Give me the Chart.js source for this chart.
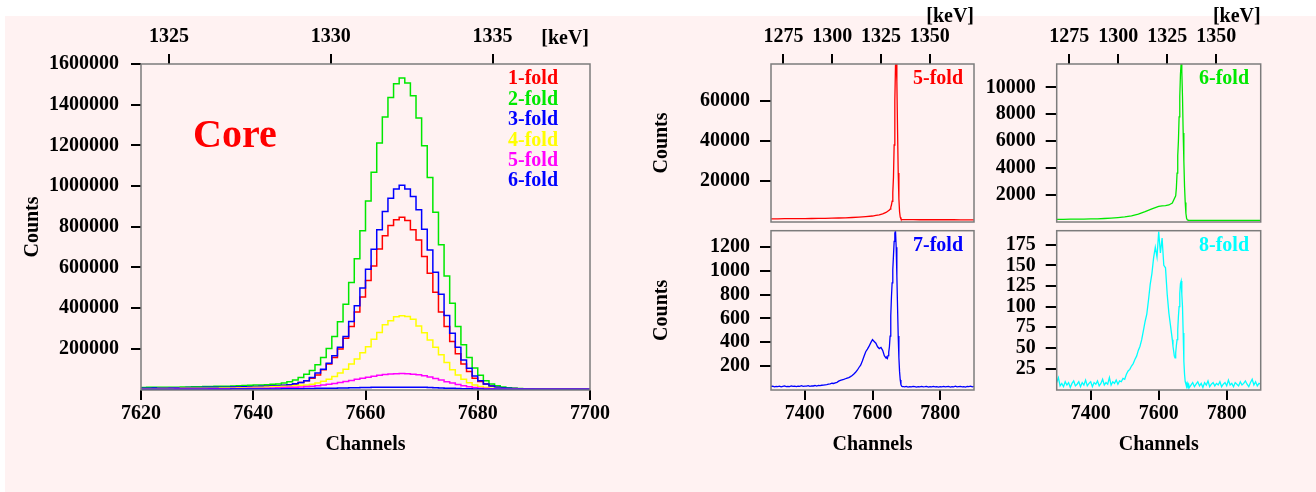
<!DOCTYPE html>
<html>
<head>
<meta charset="utf-8">
<script src="https://cdn.jsdelivr.net/npm/chart.js@4.4.1/dist/chart.umd.min.js"></script>
<style>
  body { margin: 0; width: 1316px; height: 492px; background: #fff; position: relative; overflow: hidden;
         font-family: "Liberation Serif", "Times New Roman", serif; font-weight: bold; }
  #panel { position: absolute; left: 5px; top: 16px; right: 0; bottom: 0; background: #fff2f2; }
  canvas { position: absolute; top: 0; }
  .note { position: absolute; font-size: 20px; line-height: 20px; white-space: nowrap; text-align: right; }
</style>
</head>
<body>
<div id="panel"></div>
<canvas id="core-chart" width="660" height="492" style="left:0"></canvas>
<canvas id="fold5-chart" width="340" height="492" style="left:640px"></canvas>
<canvas id="fold7-chart" width="340" height="492" style="left:640px"></canvas>
<canvas id="fold6-chart" width="356" height="492" style="left:960px"></canvas>
<canvas id="fold8-chart" width="356" height="492" style="left:960px"></canvas>

<div class="note" style="left:193px;top:114px;font-size:40px;line-height:40px;color:#f00">Core</div>
<div class="note" style="right:727px;top:27px;color:#000">[keV]</div>
<div class="note" style="right:758px;top:67px;color:#f00">1-fold</div>
<div class="note" style="right:758px;top:88px;color:#00e800">2-fold</div>
<div class="note" style="right:758px;top:108px;color:#00f">3-fold</div>
<div class="note" style="right:758px;top:129px;color:#ff0">4-fold</div>
<div class="note" style="right:758px;top:149px;color:#f0f">5-fold</div>
<div class="note" style="right:758px;top:169px;color:#00f">6-fold</div>
<div class="note" style="right:353px;top:67px;color:#f00">5-fold</div>
<div class="note" style="right:67px;top:67px;color:#00e800">6-fold</div>
<div class="note" style="right:353px;top:234px;color:#00f">7-fold</div>
<div class="note" style="right:67px;top:234px;color:#0ff">8-fold</div>

<script>
const SERIF = '"Liberation Serif", "Times New Roman", serif';
const tickFont = { family: SERIF, size: 20, weight: "bold" };

// energy calibration shown on the top axes
const CHANNEL_AT_REF = 7625;
const KEV_AT_REF = 1325;
const KEV_PER_CHANNEL = 0.1735;

// core spectrum: one bin per channel, 7620..7699, counts in thousands
const coreXTicks = [7620, 7640, 7660, 7680, 7700];
const coreYTicks = [200000, 400000, 600000, 800000, 1000000, 1200000, 1400000, 1600000];
const coreKeVTicks = [1325, 1330, 1335];

const fold1Core = [
  6, 6, 6, 7, 7, 7, 7, 8, 8, 8, 8, 9, 9, 9, 10, 10, 11, 11, 12, 12, 13, 13, 14, 15, 15,
  16, 19, 22, 27, 34, 43, 55, 71, 96, 125,
  157, 198, 252, 309, 380, 454, 535, 607, 690, 755,
  806, 834, 847, 830, 785, 735, 653, 571, 478, 380,
  309, 235, 175, 125, 88, 55, 39, 27, 17, 11,
  7, 5, 4, 3, 2,
  2, 1, 1, 1, 1, 1, 1, 1, 1, 1,
];
const fold2Core = [
  9, 9, 10, 10, 10, 11, 11, 11, 12, 12, 13, 13, 14, 14, 15, 16, 16, 17, 18, 19, 20, 21, 22, 23, 25,
  27, 31, 37, 46, 58, 74, 93, 121, 157, 201,
  260, 332, 419, 526, 642, 780, 926, 1068, 1211, 1339,
  1435, 1503, 1531, 1506, 1444, 1334, 1198, 1042, 871, 711,
  558, 424, 309, 219, 157, 105, 70, 43, 27, 18,
  12, 8, 6, 4, 3,
  2, 2, 2, 1, 1, 1, 1, 1, 1, 1,
];
const fold3Core = [
  6, 6, 6, 7, 7, 7, 8, 8, 8, 9, 9, 9, 10, 10, 10, 11, 11, 12, 12, 13, 13, 14, 15, 16, 17,
  18, 20, 23, 28, 34, 43, 58, 80, 99, 129,
  166, 207, 260, 334, 411, 498, 591, 689, 785, 875,
  940, 985, 1004, 985, 948, 883, 788, 686, 576, 468,
  363, 276, 207, 145, 104, 66, 43, 27, 17, 11,
  7, 5, 4, 3, 2,
  2, 1, 1, 1, 1, 1, 1, 1, 1, 1,
];
const fold4Core = [
  3, 3, 3, 3, 4, 4, 4, 4, 5, 5, 5, 5, 6, 6, 6, 7, 7, 7, 8, 8, 9, 10, 11, 12, 13,
  14, 15, 16, 18, 20, 22, 25, 32, 40, 50,
  63, 80, 99, 125, 150, 180, 210, 247, 280, 318,
  337, 357, 362, 358, 345, 312, 279, 243, 207, 170,
  132, 96, 71, 50, 33, 22, 14, 9, 6, 4,
  3, 2, 2, 1, 1,
  1, 1, 1, 1, 1, 1, 1, 1, 1, 1,
];
const fold5Core = [
  1, 1, 1, 1, 1, 1, 1, 2, 2, 2, 2, 2, 2, 3, 3, 3, 3, 4, 4, 4, 5, 5, 6, 6, 7,
  8, 9, 10, 11, 12, 14, 16, 18, 21, 25,
  29, 34, 39, 44, 50, 55, 60, 65, 69, 73,
  76, 77, 78, 77, 75, 72, 67, 61, 54, 46,
  38, 31, 24, 18, 13, 9, 6, 4, 3, 2,
  2, 1, 1, 1, 1,
  1, 1, 1, 1, 1, 1, 1, 1, 1, 1,
];
const fold6Core = [
  1, 1, 1, 1, 1, 1, 1, 1, 1, 1, 1, 1, 1, 1, 1, 1, 1, 2, 2, 2, 2, 2, 2, 2, 2,
  2, 3, 3, 3, 3, 4, 4, 5, 5, 6,
  6, 7, 7, 8, 8, 9, 9, 10, 10, 11,
  11, 11, 11, 11, 11, 10, 10, 9, 8, 7,
  6, 5, 4, 3, 3, 2, 2, 1, 1, 1,
  1, 1, 1, 1, 1,
  1, 1, 1, 1, 1, 1, 1, 1, 1, 1,
];

// fold panels on the right
const sideXTicks = [7400, 7600, 7800];
const sideKeVTicks = [1275, 1300, 1325, 1350];
const fold5YTicks = [20000, 40000, 60000];
const fold6YTicks = [2000, 4000, 6000, 8000, 10000];
const fold7YTicks = [200, 400, 600, 800, 1000, 1200];
const fold8YTicks = [25, 50, 75, 100, 125, 150, 175];

const smoothChannels = [
  7300, 7320, 7340, 7360, 7380, 7400, 7420, 7440, 7460, 7480, 7500, 7520, 7540, 7560, 7580, 7600,
  7610, 7620, 7630, 7640,
  7650, 7652, 7654, 7656, 7658, 7660, 7662, 7664, 7666, 7668, 7670, 7672, 7674, 7676, 7678, 7680,
  7682, 7684, 7686, 7688, 7690,
  7700, 7720, 7740, 7760, 7780, 7800, 7820, 7840, 7860, 7880, 7900,
];
const fold5Counts = [
  1000, 1000, 1050, 1050, 1100, 1100, 1150, 1200, 1250, 1300, 1400, 1500, 1650, 1850, 2100, 2400,
  2700, 3000, 3500, 4200,
  5400, 5900, 6700, 7900, 9800, 14000, 22000, 38000, 60000, 78000, 79000, 70000, 46000, 24000, 11000, 4500,
  1800, 900, 650, 600, 580,
  560, 550, 540, 540, 530, 530, 520, 520, 510, 510, 500,
];
const fold6Counts = [
  150, 150, 160, 160, 170, 180, 190, 210, 240, 280, 330, 410, 540, 720, 930, 1110,
  1160, 1180, 1220, 1370,
  1900, 2500, 3600, 4900, 6000, 7800, 9300, 11000, 11800, 11200, 9300, 6600, 4500, 2600, 1400, 600,
  220, 120, 90, 80, 75,
  75, 75, 72, 70, 70, 70, 68, 68, 66, 65, 65,
];

function channelRange(from, to, step) {
  const out = [];
  for (let c = from; c <= to; c += step) out.push(c);
  return out;
}
const noisyChannels = channelRange(7300, 7640, 5)
  .concat(channelRange(7642, 7690, 2), channelRange(7695, 7900, 5));

const fold7Counts = [
  25, 28, 22, 26, 24, 27, 21, 25, 29, 23,
  26, 24, 30, 25, 27, 23, 28, 26, 31, 25,
  28, 27, 32, 26, 30, 29, 33, 28, 34, 32,
  35, 36, 38, 40, 44, 47, 52, 50, 55, 60,
  70, 76, 80, 84, 90, 96, 100, 108, 118, 130,
  145, 162, 185, 205, 240, 280, 318, 340, 365, 395,
  420, 405, 390, 360, 345, 355, 330, 285, 265,
  270, 262, 285, 315, 360, 450, 620, 780, 900, 1010, 1130, 1250, 1320, 1338, 1200, 960, 700, 450,
  270, 150, 80, 40, 28, 24, 25,
  22, 25, 20, 24, 21, 26, 23, 19, 24, 22, 25, 21, 23, 26, 20, 24, 22, 25, 21, 23,
  19, 24, 22, 26, 21, 23, 25, 20, 24, 22, 27, 21, 23, 25, 22, 24, 20, 26, 23, 28, 22, 25,
];
const fold8Counts = [
  8, 14, 4, 7, 3, 9, 5, 8, 2, 7,
  10, 4, 6, 9, 3, 8, 5, 11, 4, 7,
  9, 3, 8, 6, 10, 4, 7, 12, 5, 8,
  6, 14, 5, 9, 7, 11, 6, 10, 9, 13,
  12, 18, 22, 24, 28, 31, 36, 40, 47, 52,
  60, 71, 82, 91, 108, 127, 140, 159, 172, 160,
  191, 165, 183, 150, 147, 115, 92, 76, 60,
  52, 46, 40, 38, 44, 53, 60, 72, 88, 100, 116, 128, 131, 115, 100, 68, 34, 18,
  9, 6, 3, 7, 4, 6, 2,
  5, 8, 3, 6, 9, 4, 7, 2, 8, 5, 10, 3, 6, 8, 4, 7, 5, 9, 3, 6,
  8, 4, 11, 5, 7, 3, 8, 6, 4, 9, 5, 7, 10, 6, 3, 8, 12, 5, 9, 4, 7, 6,
];

function keVOf(channel) {
  return KEV_AT_REF + (channel - CHANNEL_AT_REF) * KEV_PER_CHANNEL;
}

function fixedTicks(values) {
  return (scale) => {
    scale.ticks = values.map((value) => ({ value }));
  };
}

const framePlugin = {
  id: "frame",
  afterDatasetsDraw(chart) {
    const { ctx, chartArea: a } = chart;
    ctx.save();
    ctx.strokeStyle = "#7c7c7c";
    ctx.lineWidth = 1.5;
    ctx.strokeRect(a.left, a.top, a.right - a.left, a.bottom - a.top);
    ctx.restore();
  },
};

function leftAxis(min, max, ticks, width, tickLength, padding, title, titlePad) {
  return {
    type: "linear",
    position: "left",
    min,
    max,
    afterBuildTicks: fixedTicks(ticks),
    afterFit: (scale) => { scale.width = width; },
    ticks: { color: "#000", font: tickFont, padding, autoSkip: false, callback: (v) => String(v) },
    grid: { drawOnChartArea: false, tickLength, color: "#000", lineWidth: 2 },
    border: { display: false },
    title: {
      display: Boolean(title),
      text: title || "",
      color: "#000",
      font: tickFont,
      padding: { top: titlePad, bottom: 0 },
    },
  };
}

function bottomAxis(min, max, ticks, height) {
  return {
    type: "linear",
    position: "bottom",
    min,
    max,
    afterBuildTicks: fixedTicks(ticks),
    afterFit: (scale) => { scale.height = height; },
    ticks: { color: "#000", font: tickFont, padding: 2, maxRotation: 0, autoSkip: false, callback: (v) => String(v) },
    grid: { drawOnChartArea: false, tickLength: 10, color: "#000", lineWidth: 2 },
    border: { display: false },
    title: { display: true, text: "Channels", color: "#000", font: tickFont, padding: { top: 0, bottom: 35 } },
  };
}

function topAxis(minChannel, maxChannel, ticks, height, withTitle) {
  return {
    type: "linear",
    position: "top",
    min: keVOf(minChannel),
    max: keVOf(maxChannel),
    afterBuildTicks: fixedTicks(ticks),
    afterFit: (scale) => { scale.height = height; },
    ticks: { color: "#000", font: tickFont, padding: 5, maxRotation: 0, autoSkip: false, callback: (v) => String(v) },
    grid: { drawOnChartArea: false, tickLength: 10, color: "#000", lineWidth: 2 },
    border: { display: false },
    title: {
      display: withTitle,
      text: "[keV]",
      align: "end",
      color: "#000",
      font: tickFont,
      padding: { top: 5, bottom: 0 },
    },
  };
}

function baseOptions(padding, scales) {
  return {
    responsive: false,
    animation: false,
    events: [],
    layout: { padding },
    plugins: { legend: { display: false }, tooltip: { enabled: false } },
    elements: { point: { radius: 0 }, line: { tension: 0 } },
    scales,
  };
}

function histogram(values, color, order) {
  const points = values.map((v, i) => ({ x: 7620 + i, y: v * 1000 }));
  points.push({ x: 7620 + values.length, y: values[values.length - 1] * 1000 });
  return {
    data: points,
    borderColor: color,
    borderWidth: 1.5,
    stepped: "after",
    fill: false,
    xAxisID: "x",
    yAxisID: "y",
    order,
  };
}

function spectrum(channels, counts, color) {
  return {
    data: channels.map((c, i) => ({ x: c, y: counts[i] })),
    borderColor: color,
    borderWidth: 1.3,
    fill: false,
    xAxisID: "x",
    yAxisID: "y",
  };
}

function renderCoreChart() {
  new Chart(document.getElementById("core-chart"), {
    type: "line",
    data: {
      datasets: [
        histogram(fold1Core, "#ff0000", 0),
        histogram(fold2Core, "#00e800", -1),
        histogram(fold3Core, "#0000ff", -2),
        histogram(fold4Core, "#ffff00", -3),
        histogram(fold5Core, "#ff00ff", -4),
        histogram(fold6Core, "#0000ff", -5),
      ],
    },
    options: baseOptions({ left: 0, right: 70, top: 0, bottom: 0 }, {
      x: bottomAxis(7620, 7700, coreXTicks, 102),
      x2: topAxis(7620, 7700, coreKeVTicks, 64, false),
      y: leftAxis(-3000, 1600000, coreYTicks, 141, 10, 12, "Counts", 21),
    }),
    plugins: [framePlugin],
  });
}

function renderSidePanel(id, column, row, channels, counts, color, yMin, yMax, yTicks) {
  const leftWidth = column === 0 ? 131 : 96.7;
  const rightPad = column === 0 ? 6 : 55.3;
  const scales = {};
  let padding;

  if (row === 0) {
    scales.x = { type: "linear", min: 7300, max: 7900, display: false };
    scales.x2 = topAxis(7300, 7900, sideKeVTicks, 64, true);
    padding = { left: 0, right: rightPad, top: 0, bottom: 270 };
  } else {
    scales.x = bottomAxis(7300, 7900, sideXTicks, 102);
    padding = { left: 0, right: rightPad, top: 230.7, bottom: 0 };
  }
  scales.y = leftAxis(yMin, yMax, yTicks, leftWidth, 11, 10, column === 0 ? "Counts" : "", 10);

  new Chart(document.getElementById(id), {
    type: "line",
    data: { datasets: [spectrum(channels, counts, color)] },
    options: baseOptions(padding, scales),
    plugins: [framePlugin],
  });
}

Chart.defaults.font.family = SERIF;
renderCoreChart();
renderSidePanel("fold5-chart", 0, 0, smoothChannels, fold5Counts, "#ff0000", -600, 78600, fold5YTicks);
renderSidePanel("fold6-chart", 1, 0, smoothChannels, fold6Counts, "#00e800", -50, 11750, fold6YTicks);
renderSidePanel("fold7-chart", 0, 1, noisyChannels, fold7Counts, "#0000ff", -5, 1340, fold7YTicks);
renderSidePanel("fold8-chart", 1, 1, noisyChannels, fold8Counts, "#00ffff", -1, 192, fold8YTicks);
</script>
</body>
</html>
